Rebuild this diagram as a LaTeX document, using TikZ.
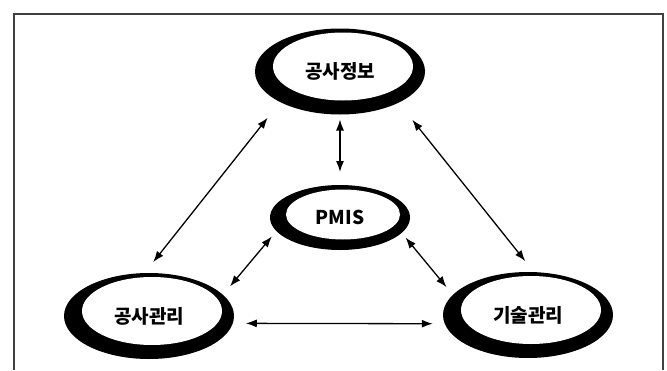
\documentclass[tikz,border=0pt]{standalone}
\usepackage{fontspec}
\newfontfamily\kofont{Noto Sans CJK KR}
\usetikzlibrary{arrows.meta,shapes.geometric}

\tikzset{
  ring/.style={ellipse,fill=black,inner sep=0pt,outer sep=0pt,
    minimum width=170pt,minimum height=86pt,
    font=\kofont\bfseries\fontsize{19}{19}\selectfont,
    path picture={\fill[white] ([xshift=3pt,yshift=5pt]path picture bounding box.center)
      ellipse [x radius=70pt,y radius=34pt];}},
  smallring/.style={ellipse,fill=black,inner sep=0pt,outer sep=0pt,
    minimum width=140pt,minimum height=65pt,
    font=\kofont\bfseries\fontsize{19}{19}\selectfont,
    path picture={\fill[white] ([xshift=3pt,yshift=3pt]path picture bounding box.center)
      ellipse [x radius=57pt,y radius=25pt];}},
  link/.style={<->,>={Latex[length=11pt,width=8pt]},line width=1.3pt}
}

\begin{document}
\begin{tikzpicture}[x=1pt,y=-1pt]
\useasboundingbox (0,0) rectangle (667,370);

% frame
\draw[line width=1.3pt,black!75] (14,370) -- (14,14) -- (663,14) -- (663,370);

% the four rings
\node[ring] (Info) at (340,71.5) {공사정보};
\node[smallring] (PMIS) at (340,217.5) {PMIS};
\node[ring] (Cons) at (149,316) {공사관리};
\node[ring] (Tech) at (528,315) {기술관리};

% links
\draw[link,shorten <=5pt,shorten >=13pt] (Info.south) -- (PMIS.north);
\draw[link,shorten <=20pt,shorten >=14pt] (Info.207) -- (Cons.96);
\draw[link,shorten <=22pt,shorten >=14pt] (Info.332) -- (Tech.82);
\draw[link,shorten <=7pt,shorten >=11pt] (PMIS.192) -- (Cons.16);
\draw[link,shorten <=6pt,shorten >=10pt] (PMIS.346) -- (Tech.165);
\draw[link,shorten <=13pt,shorten >=12pt] (Cons.-5) -- (Tech.186);

\end{tikzpicture}
\end{document}
